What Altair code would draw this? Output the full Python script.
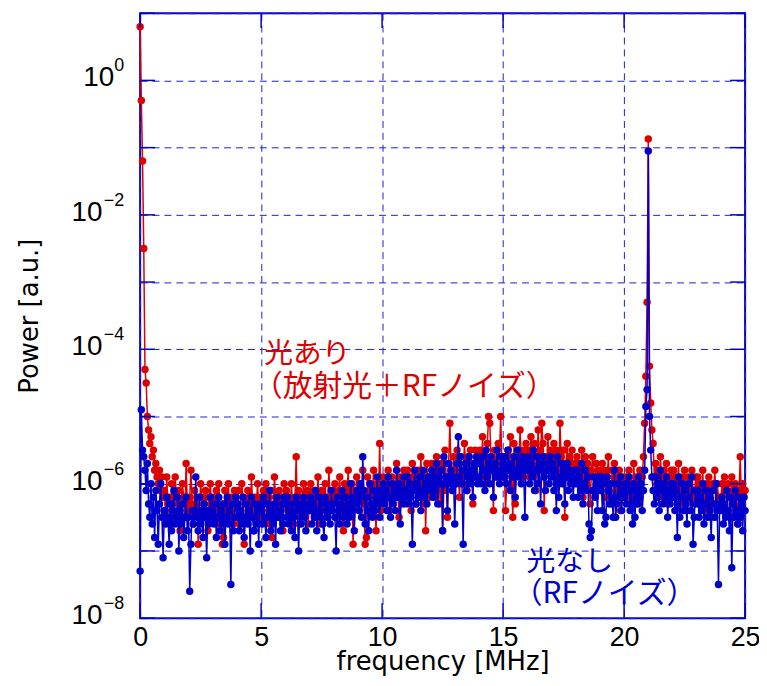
import altair as alt
import pandas as pd

# ---- data: log10(power), 0.05 MHz spacing, 0 .. 25 MHz (one row per MHz) ----
freq_step = 0.05

red_log10 = [
    0.8, -0.3, -1.2, -2.5, -4.3, -4.5, -5.0, -5.2, -5.4, -5.3, -5.6, -5.5, -5.8, -5.7, -5.9, -6.0, -5.8, -6.1, -5.9, -6.2,
    -6.1, -6.4, -5.9, -6.3, -6.2, -6.6, -6.0, -6.3, -6.5, -5.9, -6.2, -6.4, -6.1, -6.7, -6.3, -6.0, -6.2, -6.5, -5.7, -6.3,
    -6.4, -6.2, -5.8, -6.3, -6.6, -6.1, -6.3, -6.2, -6.9, -6.4, -6.0, -6.2, -6.5, -6.3, -6.1, -6.4, -6.7, -6.2, -6.0, -6.3,
    -6.2, -6.5, -6.3, -6.1, -6.4, -6.0, -6.6, -6.3, -6.9, -6.8, -6.1, -6.4, -6.3, -6.0, -6.5, -6.2, -6.4, -6.6, -6.1, -6.3,
    -6.3, -6.1, -6.6, -6.4, -6.0, -6.2, -6.9, -6.3, -6.5, -6.1, -6.2, -6.4, -5.9, -6.3, -6.7, -6.2, -6.4, -6.0, -6.3, -6.5,
    -6.2, -6.4, -6.1, -6.3, -6.0, -6.5, -6.2, -6.6, -6.1, -6.8, -6.4, -5.9, -6.2, -6.5, -6.3, -6.1, -6.4, -6.2, -6.7, -6.0,
    -6.3, -6.1, -6.4, -6.2, -6.5, -6.0, -6.3, -6.6, -6.2, -5.6, -6.4, -6.1, -6.3, -6.5, -6.2, -6.0, -6.4, -6.3, -6.1, -6.6,
    -6.2, -6.0, -6.4, -6.3, -6.1, -6.5, -6.2, -5.9, -6.3, -6.6, -6.1, -6.4, -6.2, -6.0, -6.5, -6.3, -5.8, -6.2, -6.4, -6.1,
    -6.3, -6.0, -6.2, -6.5, -6.1, -5.9, -6.4, -6.2, -6.7, -6.0, -6.3, -6.1, -5.8, -6.4, -6.2, -6.0, -6.9, -6.1, -6.3, -5.9,
    -6.1, -6.4, -6.0, -6.2, -5.8, -6.3, -6.9, -6.8, -5.9, -6.2, -6.0, -6.4, -6.1, -5.8, -6.3, -6.7, -6.0, -6.2, -5.4, -6.4,
    -6.1, -5.9, -6.3, -6.0, -6.2, -5.8, -6.4, -6.1, -5.9, -6.3, -6.0, -6.2, -5.7, -6.1, -6.5, -5.9, -6.2, -6.0, -5.8, -6.3,
    -6.0, -5.8, -6.2, -5.9, -6.4, -5.7, -6.1, -5.9, -6.3, -6.0, -5.8, -6.2, -5.6, -6.0, -6.3, -5.9, -6.7, -5.7, -6.0, -6.2,
    -5.9, -5.7, -6.1, -5.8, -6.2, -5.6, -6.0, -5.8, -6.3, -5.7, -6.7, -6.1, -5.5, -5.9, -6.5, -5.7, -5.1, -5.8, -6.0, -5.6,
    -5.8, -6.0, -5.5, -5.9, -6.2, -5.6, -5.8, -6.0, -5.4, -5.7, -6.1, -5.6, -5.9, -5.5, -5.8, -6.3, -5.7, -5.5, -5.9, -5.6,
    -5.7, -5.5, -5.9, -5.3, -5.8, -5.6, -6.0, -5.4, -5.0, -5.1, -5.6, -5.8, -6.4, -5.5, -5.7, -5.9, -5.4, -5.6, -5.0, -5.7,
    -5.6, -5.8, -6.4, -6.0, -5.5, -5.7, -5.3, -5.9, -6.5, -5.4, -6.3, -5.7, -5.5, -5.8, -5.2, -5.6, -5.9, -5.5, -5.7, -5.4,
    -5.7, -5.5, -5.9, -5.3, -5.6, -5.8, -5.4, -6.1, -5.6, -5.2, -5.7, -5.5, -5.1, -5.4, -6.4, -5.6, -5.8, -5.3, -5.7, -5.5,
    -5.6, -5.8, -5.4, -5.9, -5.5, -5.7, -6.0, -5.1, -5.6, -5.8, -5.5, -6.5, -5.7, -5.4, -5.9, -5.6, -5.8, -5.5, -6.0, -5.7,
    -5.8, -5.6, -6.0, -5.7, -5.9, -5.5, -6.2, -5.8, -5.6, -6.0, -5.7, -5.9, -6.3, -5.8, -5.6, -6.1, -5.9, -5.7, -6.0, -5.8,
    -5.9, -6.1, -5.7, -6.0, -5.8, -6.2, -5.9, -5.6, -6.1, -6.3, -5.8, -6.0, -5.7, -6.2, -5.9, -6.1, -5.8, -6.4, -6.0, -5.9,
    -6.1, -5.9, -6.2, -6.0, -5.8, -6.3, -6.0, -6.1, -5.7, -6.2, -5.9, -6.0, -6.3, -5.8, -6.1, -5.9, -5.6, -5.1, -4.4, -3.3,
    -0.87, -4.25, -4.8, -5.2, -5.4, -5.9, -5.7, -6.0, -5.8, -6.1, -5.6, -5.9, -6.2, -5.8, -6.0, -5.7, -6.3, -5.9, -6.1, -5.8,
    -6.0, -5.8, -6.2, -5.9, -6.1, -5.7, -6.3, -6.0, -5.9, -6.2, -5.8, -6.1, -6.4, -5.9, -6.0, -6.2, -5.8, -6.1, -6.3, -5.9,
    -6.1, -5.9, -6.3, -6.0, -6.2, -5.8, -6.4, -6.1, -6.0, -6.3, -5.9, -6.2, -6.5, -6.0, -6.1, -5.8, -6.3, -6.0, -6.2, -6.4,
    -6.2, -6.0, -6.3, -5.9, -6.1, -6.4, -6.0, -6.2, -6.5, -5.9, -6.1, -6.3, -6.0, -6.2, -6.6, -6.1, -5.6, -6.3, -6.0, -6.2,
    -6.1,
]

blue_log10 = [
    -7.3, -4.9, -5.5, -5.6, -5.8, -6.1, -5.7, -6.3, -6.5, -6.0, -6.6, -6.2, -6.8, -6.1, -6.4, -6.9, -6.3, -6.0, -6.5, -7.1,
    -6.4, -6.6, -6.2, -6.5, -6.9, -6.3, -6.7, -6.4, -6.1, -6.6, -6.5, -6.2, -7.0, -6.4, -6.6, -6.3, -6.8, -6.5, -6.2, -6.7,
    -6.5, -7.6, -6.9, -6.4, -6.6, -6.4, -5.9, -6.5, -6.7, -6.2, -6.6, -6.4, -6.8, -6.3, -6.5, -7.1, -6.4, -6.6, -6.2, -6.5,
    -6.4, -6.6, -6.3, -6.8, -6.5, -6.2, -6.7, -6.4, -6.6, -6.3, -6.9, -6.5, -6.2, -6.6, -6.4, -7.5, -6.3, -6.7, -6.5, -6.2,
    -6.5, -6.3, -6.7, -6.4, -6.6, -6.2, -6.8, -6.5, -6.3, -6.6, -6.4, -7.0, -6.2, -6.5, -6.7, -6.3, -6.6, -6.4, -6.9, -6.3,
    -6.4, -6.6, -6.2, -6.5, -6.8, -6.3, -6.5, -6.1, -6.7, -6.4, -6.6, -6.3, -6.9, -6.2, -6.5, -6.4, -6.7, -6.3, -6.6, -6.2,
    -6.3, -6.5, -6.2, -6.6, -6.4, -6.7, -6.3, -6.5, -6.8, -6.2, -6.4, -7.0, -6.3, -6.6, -6.4, -6.2, -6.5, -6.7, -6.3, -6.4,
    -6.4, -6.2, -6.6, -6.3, -6.5, -6.1, -6.7, -6.4, -6.2, -6.5, -6.3, -6.6, -6.8, -6.2, -6.4, -6.5, -6.3, -6.6, -6.1, -6.4,
    -6.3, -6.5, -7.0, -6.2, -6.4, -6.6, -6.3, -6.1, -6.5, -6.4, -6.2, -6.6, -6.3, -6.5, -6.0, -6.4, -6.2, -6.7, -6.3, -6.1,
    -6.2, -6.4, -6.0, -6.5, -5.6, -6.1, -6.6, -6.2, -6.4, -6.7, -6.0, -6.3, -6.5, -6.1, -6.4, -6.2, -5.9, -6.3, -6.5, -6.1,
    -6.2, -6.0, -6.3, -6.1, -6.4, -5.9, -6.2, -6.5, -6.0, -6.3, -6.1, -6.4, -5.8, -6.2, -6.0, -6.6, -6.1, -6.3, -5.9, -6.2,
    -6.1, -5.9, -6.3, -6.0, -6.2, -6.9, -6.1, -5.8, -6.3, -6.0, -6.2, -5.9, -6.4, -6.1, -5.8, -6.2, -6.0, -6.3, -5.9, -6.1,
    -6.0, -5.8, -6.2, -5.9, -6.1, -5.7, -6.3, -5.9, -6.0, -5.8, -6.7, -5.6, -6.0, -5.9, -6.4, -5.7, -6.0, -5.8, -6.1, -5.9,
    -6.6, -6.0, -5.7, -5.3, -5.9, -5.6, -6.0, -6.9, -5.8, -5.7, -6.1, -5.9, -5.6, -6.0, -5.8, -6.2, -5.7, -5.9, -5.6, -6.0,
    -5.9, -5.7, -6.0, -5.6, -5.8, -6.1, -5.5, -5.9, -5.7, -6.0, -5.6, -5.8, -6.2, -5.7, -5.9, -5.5, -5.8, -6.0, -5.6, -5.9,
    -5.7, -5.9, -5.6, -6.0, -5.5, -5.8, -6.1, -5.7, -5.9, -5.6, -6.2, -5.8, -5.5, -5.9, -5.7, -6.0, -5.6, -5.8, -6.5, -5.7,
    -5.8, -5.6, -6.0, -5.7, -5.9, -5.5, -6.1, -5.8, -5.6, -6.0, -5.7, -6.3, -5.8, -5.6, -5.9, -6.1, -5.7, -5.8, -6.0, -5.6,
    -5.9, -5.7, -6.1, -5.8, -6.4, -5.6, -6.2, -5.9, -5.7, -6.0, -5.8, -6.3, -5.9, -5.7, -6.1, -5.8, -6.0, -5.9, -6.2, -5.8,
    -6.0, -5.8, -6.2, -5.9, -6.1, -5.7, -6.3, -6.0, -5.8, -6.1, -5.9, -6.6, -6.8, -6.7, -6.1, -5.9, -6.2, -6.0, -6.4, -5.9,
    -6.1, -5.9, -6.4, -6.0, -6.6, -6.5, -5.9, -6.1, -6.3, -6.0, -6.2, -6.5, -5.8, -6.5, -6.3, -6.0, -6.2, -5.9, -6.4, -6.1,
    -6.2, -6.0, -6.3, -6.1, -5.9, -6.4, -6.1, -6.6, -6.0, -6.5, -6.1, -6.3, -5.9, -6.2, -6.0, -6.4, -6.1, -5.8, -4.85, -4.6,
    -1.05, -5.0, -5.5, -5.9, -6.1, -6.3, -5.9, -6.2, -6.0, -6.4, -5.8, -6.1, -6.3, -6.0, -6.2, -5.9, -6.5, -6.1, -6.3, -6.0,
    -6.2, -6.0, -6.4, -6.1, -6.8, -5.9, -6.5, -6.2, -6.0, -6.4, -6.1, -6.3, -6.6, -6.0, -6.2, -6.4, -5.9, -6.9, -6.5, -6.1,
    -6.3, -6.1, -6.5, -6.2, -6.4, -6.0, -6.6, -6.3, -6.1, -6.5, -6.2, -6.4, -6.8, -6.1, -6.3, -6.5, -6.0, -6.4, -7.5, -6.3,
    -6.4, -6.2, -6.6, -6.3, -6.5, -6.1, -6.4, -6.7, -6.2, -7.25, -6.3, -6.5, -6.1, -6.4, -6.6, -6.2, -6.5, -6.3, -6.7, -6.2,
    -6.4,
]

x_ticks = [0, 5, 10, 15, 20, 25]
y_decades = [-8, -7, -6, -5, -4, -3, -2, -1, 0, 1]
y_label_exps = [-8, -6, -4, -2, 0]

ann_text = ["光あり", "（放射光＋RFノイズ）", "光なし", "（RFノイズ）"]
ann_freq = [5.13, 4.66, 15.97, 15.40]
ann_log10 = [-4.07, -4.56, -7.16, -7.64]
ann_size = [29, 30, 29, 30]
ann_color = ["red", "red", "blue", "blue"]

# ---- styling ----
RED = "#dd0000"
BLUE = "#0000cc"
GRID = "#1f1fd4"
W, H = 609, 609

n = min(len(red_log10), len(blue_log10))
freq = [round(i * freq_step, 3) for i in range(n)]
red_df = pd.DataFrame({"f": freq, "p": [10 ** v for v in red_log10[:n]]})
blue_df = pd.DataFrame({"f": freq, "p": [10 ** v for v in blue_log10[:n]]})

x_scale = alt.Scale(domain=[0, 25], nice=False, zero=False)
y_scale = alt.Scale(type="log", domain=[1e-8, 1e1], nice=False)

x_axis = alt.Axis(
    values=x_ticks, grid=True, gridColor=GRID, gridDash=[7, 5], gridWidth=1,
    ticks=False, domain=False, labelFlush=False, labelOverlap=False,
    labelFont="Liberation Sans", labelFontSize=27, labelColor="black", labelPadding=7,
    title="frequency [MHz]", titleFont="DejaVu Sans", titleFontSize=26,
    titleFontWeight="normal", titleColor="black", titleBaseline="alphabetic",
    titleAlign="center", titleX=W / 2, titleY=52,
)
y_axis = alt.Axis(
    values=[10.0 ** e for e in y_decades], grid=True, gridColor=GRID, gridDash=[7, 5],
    gridWidth=1, ticks=False, domain=False, labels=False,
    title="Power [a.u.]", titleFont="DejaVu Sans", titleFontSize=26,
    titleFontWeight="normal", titleColor="black", titleBaseline="alphabetic",
    titleAlign="center", titleAngle=270, titleX=-103, titleY=H / 2,
)

X = alt.X("f:Q", scale=x_scale, axis=x_axis)
Y = alt.Y("p:Q", scale=y_scale, axis=y_axis)

def series(df, color):
    base = alt.Chart(df).encode(x=X, y=Y)
    line = base.mark_line(color=color, strokeWidth=1.5)
    pts = base.mark_circle(color=color, size=56, opacity=1)
    return line + pts

red_layer = series(red_df, RED)
blue_layer = series(blue_df, BLUE)

# inward ticks
ydec_df = pd.DataFrame({"p": [10.0 ** e for e in y_decades]})
xt_df = pd.DataFrame({"f": x_ticks})
tick_len = 15
yt_left = alt.Chart(ydec_df).mark_rule(color=BLUE, strokeWidth=1.5).encode(
    y=alt.Y("p:Q", scale=y_scale), x=alt.value(0), x2=alt.value(tick_len))
yt_right = alt.Chart(ydec_df).mark_rule(color=BLUE, strokeWidth=1.5).encode(
    y=alt.Y("p:Q", scale=y_scale), x=alt.value(W - tick_len), x2=alt.value(W))
xt_bottom = alt.Chart(xt_df).mark_rule(color=BLUE, strokeWidth=1.5).encode(
    x=alt.X("f:Q", scale=x_scale), y=alt.value(H - tick_len), y2=alt.value(H))
xt_top = alt.Chart(xt_df).mark_rule(color=BLUE, strokeWidth=1.5).encode(
    x=alt.X("f:Q", scale=x_scale), y=alt.value(0), y2=alt.value(tick_len))

# y tick labels: "10" with superscript exponent
lab_df = pd.DataFrame({
    "p": [10.0 ** e for e in y_label_exps],
    "exp": [("−" + str(abs(e))) if e < 0 else str(e) for e in y_label_exps],
    "neg": [e < 0 for e in y_label_exps],
})
lab_base = alt.Chart(lab_df)
ten_neg = lab_base.transform_filter("datum.neg").mark_text(
    text="10", font="Liberation Sans", fontSize=28, align="right",
    baseline="alphabetic", dy=6, color="black").encode(
    y=alt.Y("p:Q", scale=y_scale), x=alt.value(-38))
ten_zero = lab_base.transform_filter("!datum.neg").mark_text(
    text="10", font="Liberation Sans", fontSize=28, align="right",
    baseline="alphabetic", dy=6, color="black").encode(
    y=alt.Y("p:Q", scale=y_scale), x=alt.value(-26))
exp_txt = lab_base.mark_text(
    font="Liberation Sans", fontSize=18, align="right",
    baseline="alphabetic", dy=-9, color="black").encode(
    y=alt.Y("p:Q", scale=y_scale), x=alt.value(-16), text="exp:N")

# annotations
ann_df = pd.DataFrame({
    "f": ann_freq, "p": [10 ** v for v in ann_log10],
    "t": ann_text, "c": ann_color, "s": ann_size,
})

def ann_layer(cname, color):
    return alt.Chart(ann_df).transform_filter(f"datum.c == '{cname}'").mark_text(
        font="Noto Sans CJK JP", align="left", baseline="middle", color=color
    ).encode(
        x=alt.X("f:Q", scale=x_scale), y=alt.Y("p:Q", scale=y_scale),
        text="t:N", size=alt.Size("s:Q", scale=None, legend=None),
    )

ann_red = ann_layer("red", RED)
ann_blue = ann_layer("blue", BLUE)

chart = alt.layer(
    red_layer, blue_layer,
    yt_left, yt_right, xt_bottom, xt_top,
    ten_neg, ten_zero, exp_txt,
    ann_red, ann_blue,
).properties(
    width=W, height=H,
    padding={"left": 133, "top": 3, "right": 14, "bottom": 58},
    autosize=alt.AutoSizeParams(type="none"),
).configure_view(stroke=BLUE, strokeWidth=2)

chart.save("out.html", embed_options={"renderer": "svg", "actions": False})
